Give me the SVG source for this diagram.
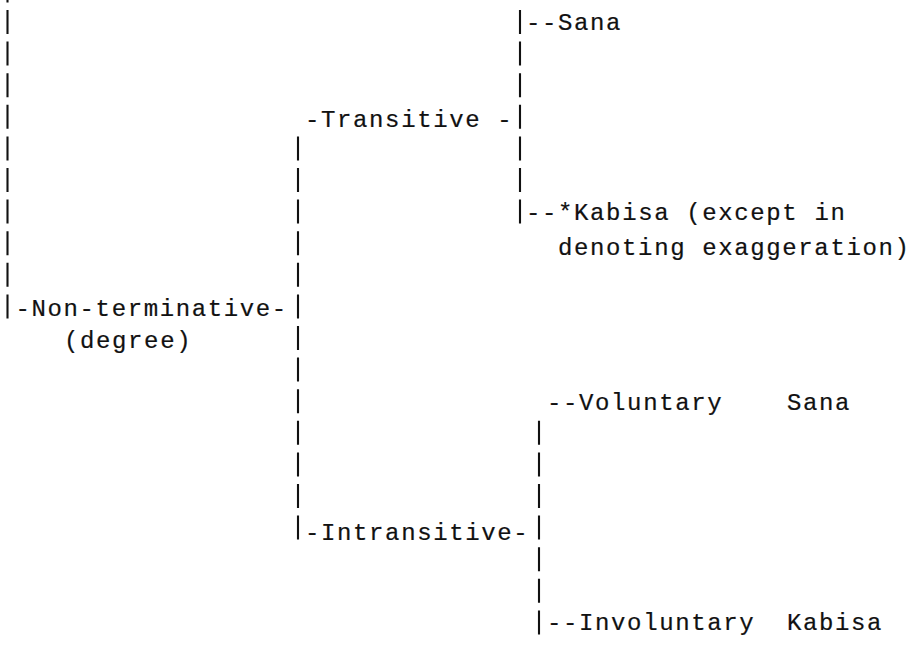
<svg xmlns="http://www.w3.org/2000/svg" width="918" height="646" viewBox="0 0 918 646">
  <style>
    .t { font-family: "Liberation Mono", "Courier New", monospace; font-size: 24px; letter-spacing: 1.62px; fill: #111; stroke: #111; stroke-width: 0.2px; }
    .bar { stroke: #111; stroke-width: 2.1; fill: none; stroke-dasharray: 24 7.6; }
  </style>
  <rect width="918" height="646" fill="#fff"/>
  <g id="connectors">
    <line class="bar" x1="7.5" y1="-21.6" x2="7.5" y2="318.4"/>
    <line class="bar" x1="298" y1="136.4" x2="298" y2="539.6"/>
    <line class="bar" x1="520" y1="10" x2="520" y2="223.6"/>
    <line class="bar" x1="539" y1="420.8" x2="539" y2="634.4"/>
  </g>
  <g id="n-nonterminative">
    <text class="t" x="15.5" y="316">-Non-terminative-</text>
    <text class="t" x="64" y="348">(degree)</text>
  </g>
  <g id="n-transitive">
    <text class="t" x="305" y="127">-Transitive -</text>
  </g>
  <g id="n-intransitive">
    <text class="t" x="305" y="540">-Intransitive-</text>
  </g>
  <g id="n-sana">
    <text class="t" x="526" y="30">--Sana</text>
  </g>
  <g id="n-kabisa">
    <text class="t" x="526" y="220">--*Kabisa (except in</text>
    <text class="t" x="558" y="255">denoting exaggeration)</text>
  </g>
  <g id="n-voluntary">
    <text class="t" x="547" y="410">--Voluntary<tspan x="787">Sana</tspan></text>
  </g>
  <g id="n-involuntary">
    <text class="t" x="547" y="630">--Involuntary<tspan x="787">Kabisa</tspan></text>
  </g>
</svg>
